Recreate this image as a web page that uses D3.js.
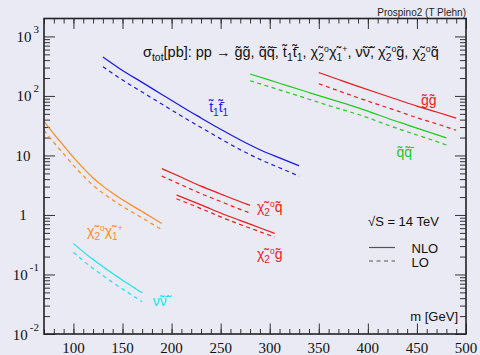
<!DOCTYPE html>
<html>
<head>
<meta charset="utf-8">
<script src="https://cdn.jsdelivr.net/npm/d3@7"></script>
<style>
body { margin: 0; background: #eaeaf5; }
svg { display: block; }
</style>
</head>
<body>
<div id="chart"></div>
<script>
// masses in GeV, cross sections in pb (NLO solid, LO dashed)
var mGG = [350, 370, 390, 410, 430, 450, 470, 490],
    nloGG = [247, 189, 145, 112, 87, 67.6, 53.7, 42.4],
    loGG = [160, 122, 93, 72, 56, 43, 34, 26.5];

var mQQ = [280, 300, 320, 340, 360, 380, 400, 420, 440, 460, 480],
    nloQQ = [234, 184, 145, 114, 90, 71.6, 55.6, 42.2, 32.7, 25.4, 19.7],
    loQQ = [180, 142, 112, 88, 69, 55, 43, 32.5, 25, 19.5, 15];

var mTT = [130, 150, 170, 190, 210, 230, 250, 270, 290, 310, 330],
    nloTT = [452, 268, 169, 106, 66.7, 42.7, 27.5, 18.2, 12.5, 9.1, 6.7],
    loTT = [310, 185, 116, 73, 46, 29.5, 19, 12.5, 8.6, 6.2, 4.5];

var mN2C1 = [70, 80, 90, 100, 110, 120, 130, 140, 150, 160, 170, 180, 190],
    nloN2C1 = [37.5, 23.1, 14.6, 9.27, 6.11, 4.18, 3.05, 2.32, 1.80, 1.43, 1.14, 0.908, 0.721],
    loN2C1 = [26.5, 16.5, 10.6, 6.8, 4.55, 3.15, 2.32, 1.78, 1.39, 1.11, 0.89, 0.71, 0.565];

var mNN = [100, 110, 120, 130, 140, 150, 160, 170],
    nloNN = [0.331, 0.240, 0.178, 0.135, 0.1035, 0.080, 0.063, 0.049],
    loNN = [0.235, 0.17, 0.126, 0.096, 0.0735, 0.057, 0.0447, 0.0348];

var mN2Q = [190, 210, 230, 250, 270, 280],
    nloN2Q = [6.0, 4.29, 3.05, 2.25, 1.67, 1.45],
    loN2Q = [4.5, 3.2, 2.28, 1.68, 1.24, 1.08];

var mN2G = [205, 230, 255, 280, 305],
    nloN2G = [2.17, 1.48, 1.0, 0.70, 0.49],
    loN2G = [1.87, 1.28, 0.86, 0.60, 0.425];

var xMajor = [100, 150, 200, 250, 300, 350, 400, 450, 500];
var yMajor = [0.01, 0.1, 1, 10, 100, 1000];
var yLabels = [["10", "-2"], ["10", "-1"], ["1", ""], ["10", ""], ["10", "2"], ["10", "3"]];

var width = 480, height = 355;
var fL = 44, fR = 466, fT = 18.5, fB = 334;

var svg = d3.select("#chart").append("svg")
    .attr("width", width)
    .attr("height", height)
    .style("font-family", "'Liberation Sans', Arial, Helvetica, sans-serif");

var x = d3.scaleLinear().domain([70, 500]).range([fL, fR]);
var y = d3.scaleLog().domain([0.01, 2000]).range([fB, fT]);

//rich text with sub/superscripts
function rich(t, parts, size) {
    var shift = 0;
    parts.forEach(function(p) {
        var kind = p[1] || "n";
        var target = kind === "sub" ? 0.28 * size : kind === "sup" ? -0.36 * size : 0;
        var s = t.append("tspan").text(p[0]).attr("dy", target - shift);
        if (kind === "sub") s.style("font-size", (size * 0.72) + "px");
        if (kind === "sup") s.style("font-size", (size * 0.6) + "px");
        shift = target;
    });
    return t;
}

//ticks, ROOT style pointing inwards
var minorX = d3.range(70, 501, 10);
var minorY = [];
[-2, -1, 0, 1, 2, 3].forEach(function(e) {
    for (var k = 2; k <= 9; k++) {
        var v = k * Math.pow(10, e);
        if (v < 1990) minorY.push(v);
    }
});

function tickAxis(axis, vals, size, transform) {
    var g = svg.append("g")
        .attr("transform", transform)
        .call(axis.tickValues(vals).tickSize(size).tickFormat(""));
    g.select(".domain").remove();
    g.selectAll("line").attr("stroke", "#333");
    return g;
}
tickAxis(d3.axisBottom(x), minorX, -5, "translate(0," + fB + ")");
tickAxis(d3.axisBottom(x), xMajor, -10.5, "translate(0," + fB + ")");
tickAxis(d3.axisTop(x), minorX, -5, "translate(0," + fT + ")");
tickAxis(d3.axisTop(x), xMajor, -10.5, "translate(0," + fT + ")");
tickAxis(d3.axisLeft(y), minorY, -6, "translate(" + fL + ",0)");
tickAxis(d3.axisLeft(y), yMajor, -11, "translate(" + fL + ",0)");
tickAxis(d3.axisRight(y), minorY, -6, "translate(" + fR + ",0)");
tickAxis(d3.axisRight(y), yMajor, -11, "translate(" + fR + ",0)");

//x labels
svg.append("g").selectAll("text")
    .data(xMajor)
    .enter().append("text")
    .attr("x", function(d) { return x(d); })
    .attr("y", 353)
    .attr("text-anchor", "middle")
    .style("font-family", "'Liberation Serif', 'Times New Roman', serif")
    .style("font-size", "15px")
    .attr("fill", "#111")
    .text(function(d) { return d; });

//y labels
yMajor.forEach(function(v, i) {
    var lab = yLabels[i];
    var t = svg.append("text")
        .attr("y", y(v) + 5.5)
        .style("font-family", "'Liberation Serif', 'Times New Roman', serif")
        .style("font-size", "15px")
        .attr("fill", "#111");
    if (lab[1]) {
        t.attr("x", 39).attr("text-anchor", "end");
        t.append("tspan").text(lab[0]);
        t.append("tspan").text(lab[1]).attr("dx", 2).attr("dy", -9).style("font-size", "11px");
    } else {
        t.attr("x", 23).attr("text-anchor", "middle").text(lab[0]);
    }
});

//curves
var series = [
    {m: mGG, nlo: nloGG, lo: loGG, color: "#ee1a1a", label: [["g\u0303g\u0303"]], at: [462, 85]},
    {m: mQQ, nlo: nloQQ, lo: loQQ, color: "#22c822", label: [["q\u0303q\u0303\u0304"]], at: [437, 11.4]},
    {m: mTT, nlo: nloTT, lo: loTT, color: "#1818ee", label: [["t\u0303"], ["1", "sub"], ["t\u0303\u0304"], ["1", "sub"]], at: [248, 65]},
    {m: mN2C1, nlo: nloN2C1, lo: loN2C1, color: "#ff8a1c", label: [["\u03c7\u0303"], ["2", "sub"], ["o", "sup"], ["\u03c7\u0303"], ["1", "sub"], ["+", "sup"]], at: [132, 0.54]},
    {m: mNN, nlo: nloNN, lo: loNN, color: "#18e4f0", label: [["\u03bd\u0303\u03bd\u0303\u0304"]], at: [188, 0.036]},
    {m: mN2Q, nlo: nloN2Q, lo: loN2Q, color: "#ee1a1a", label: [["\u03c7\u0303"], ["2", "sub"], ["o", "sup"], ["q\u0303"]], at: [300, 1.36]},
    {m: mN2G, nlo: nloN2G, lo: loN2G, color: "#ee1a1a", label: [["\u03c7\u0303"], ["2", "sub"], ["o", "sup"], ["g\u0303"]], at: [300, 0.22]}
];

svg.append("clipPath").attr("id", "frame")
    .append("rect").attr("x", fL).attr("y", fT)
    .attr("width", fR - fL).attr("height", fB - fT);

var line = d3.line()
    .x(function(d) { return x(d[0]); })
    .y(function(d) { return y(d[1]); })
    .curve(d3.curveMonotoneX);

var plot = svg.append("g").attr("clip-path", "url(#frame)");
series.forEach(function(s) {
    plot.append("path")
        .attr("d", line(s.m.map(function(m, i) { return [m, s.nlo[i]]; })))
        .attr("fill", "none").attr("stroke", s.color).attr("stroke-width", 1.2);
    plot.append("path")
        .attr("d", line(s.m.map(function(m, i) { return [m, s.lo[i]]; })))
        .attr("fill", "none").attr("stroke", s.color).attr("stroke-width", 1.2)
        .attr("stroke-dasharray", "4,3.5");
    var t = svg.append("text")
        .attr("x", x(s.at[0]))
        .attr("y", y(s.at[1]) + 5)
        .attr("text-anchor", "middle")
        .attr("fill", s.color)
        .style("font-size", "14px");
    rich(t, s.label, 14);
});

//frame
svg.append("rect")
    .attr("x", fL).attr("y", fT)
    .attr("width", fR - fL).attr("height", fB - fT)
    .attr("fill", "none").attr("stroke", "#222").attr("stroke-width", 1.6);

//title
var title = svg.append("text")
    .attr("x", 143).attr("y", 57)
    .style("font-size", "14.5px")
    .attr("fill", "#111");
rich(title, [["\u03c3"], ["tot", "sub"], ["[pb]:  pp \u2192 g\u0303g\u0303, q\u0303q\u0303\u0304, t\u0303"], ["1", "sub"], ["t\u0303\u0304"], ["1", "sub"],
    [", \u03c7\u0303"], ["2", "sub"], ["o", "sup"], ["\u03c7\u0303"], ["1", "sub"], ["+", "sup"],
    [", \u03bd\u0303\u03bd\u0303\u0304, \u03c7\u0303"], ["2", "sub"], ["o", "sup"], ["g\u0303, \u03c7\u0303"], ["2", "sub"], ["o", "sup"], ["q\u0303"]], 14.5);

svg.append("text")
    .attr("x", 466).attr("y", 16)
    .attr("text-anchor", "end")
    .style("font-size", "10px")
    .attr("fill", "#222")
    .text("Prospino2 (T Plehn)");

//legend
svg.append("text").attr("x", 368).attr("y", 226)
    .style("font-size", "13px").attr("fill", "#111")
    .text("\u221aS = 14 TeV");
svg.append("line").attr("x1", 369).attr("x2", 395).attr("y1", 247.5).attr("y2", 247.5)
    .attr("stroke", "#555").attr("stroke-width", 1.2);
svg.append("line").attr("x1", 369).attr("x2", 395).attr("y1", 261).attr("y2", 261)
    .attr("stroke", "#555").attr("stroke-width", 1.2).attr("stroke-dasharray", "4,3.5");
svg.append("text").attr("x", 411.5).attr("y", 253)
    .style("font-size", "13px").attr("fill", "#111").text("NLO");
svg.append("text").attr("x", 411.5).attr("y", 267)
    .style("font-size", "13px").attr("fill", "#111").text("LO");

svg.append("text").attr("x", 458).attr("y", 321)
    .attr("text-anchor", "end")
    .style("font-size", "13px").attr("fill", "#111")
    .text("m [GeV]");
</script>
</body>
</html>
